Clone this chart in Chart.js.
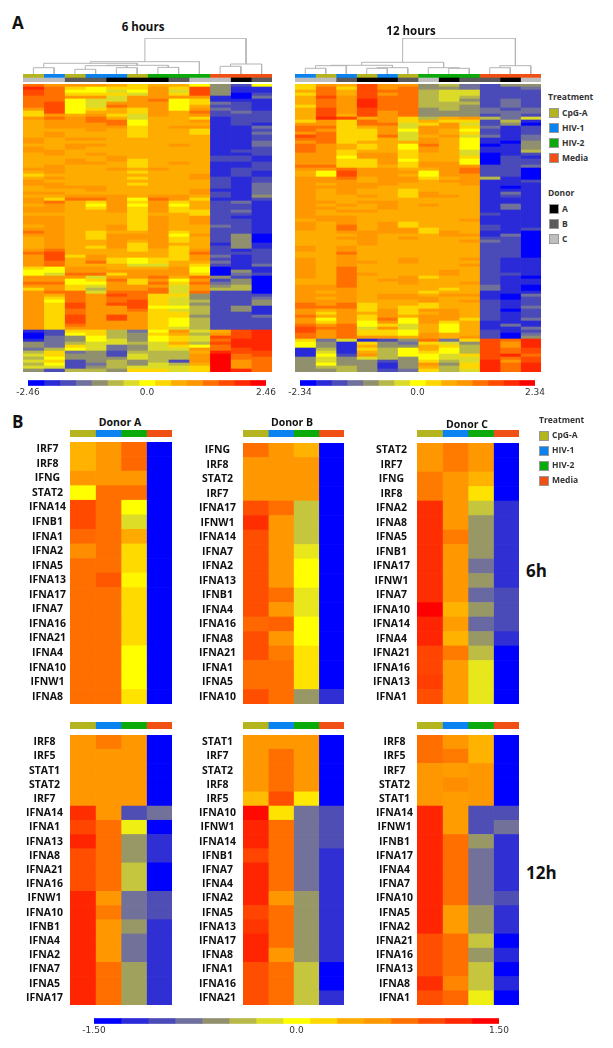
<!DOCTYPE html>
<html>
<head>
<meta charset="utf-8">
<title>Heatmaps</title>
<script src="https://cdn.jsdelivr.net/npm/chart.js@4"></script>
<style>
html, body { margin: 0; padding: 0; background: #fff; }
#page { position: relative; width: 613px; height: 1048px; overflow: hidden; font-family: "Open Sans", sans-serif; }
#page canvas { position: absolute; }
.txt { position: absolute; white-space: nowrap; color: #111; line-height: 1; }
.swatch { position: absolute; width: 8px; height: 8px; border: 1px solid #999; }
</style>
</head>
<body>
<div id="page"></div>
<script>
// colour steps of the bars, -7 (blue) to 7 (red)
const colorSteps = ['#0000ff','#2a2ad8','#4a4ab8','#70709c','#90906e','#b8b84a','#dcdc28','#ffff00','#ffd700','#ffac00','#ff9800','#ff7000','#ff4a00','#ff2800','#ff0000'];

const treatments = ['CpG-A','HIV-1','HIV-2','Media'];
const treatmentColors = ['#b4b41e','#0a82f0','#0aaa0a','#f05014'];
const donors = ['A','B','C'];
const donorColors = ['#000000','#5a5a5a','#bebebe'];

// panel A column annotations (index into treatments / donors)
const treat6h = [0,1,0,1,1,0,2,2,2,3,3,3];
const donor6h = [2,2,1,1,0,0,0,1,2,2,0,1];
const treat12h = [1,0,1,0,1,0,2,2,2,3,3,3];
const donor12h = [2,2,1,0,0,1,2,0,1,1,0,2];

// dendrograms: [childA, childB, height]; children under 12 are columns, 12+ are earlier merges
const dendro6h = [[0,1,6.3],[2,3,4.7],[4,5,6.3],[6,7,6.6],[13,14,8.3],[16,15,8.7],[12,17,10.7],[18,8,12.3],[9,10,7.7],[20,11,10],[19,21,35.7]];
const dendro12h = [[0,1,5.7],[12,2,8.3],[3,4,5.7],[14,5,6.3],[13,15,8.7],[7,8,5.7],[6,17,6.3],[16,18,11.7],[9,10,6.3],[20,11,8.3],[19,21,35.7]];

// panel A rows in colour steps
const heat6h = [
[4,3,3,3,2,1,2,2,0,-3,-5,0],[6,4,1,0,1,1,3,1,5,-3,-6,-6],[5,4,0,0,-1,0,3,-1,5,-3,-6,-6],[5,4,1,1,1,-1,3,1,5,-3,-7,-5],
[4,4,3,3,-1,3,3,3,3,-6,-7,-4],[4,4,0,-1,-1,3,4,0,1,-6,-6,-6],[4,5,0,-1,3,3,3,0,1,-4,-5,-6],[4,5,0,-1,4,3,3,0,2,-5,-5,-6],
[3,5,0,1,2,1,3,0,3,-4,-5,-6],[1,5,0,2,2,1,3,2,4,-5,-4,-5],[1,3,2,3,1,-1,3,2,3,-5,-5,-5],[3,4,3,4,2,-1,2,2,1,-6,-5,-5],
[2,3,3,4,4,0,2,2,3,-6,-5,-5],[2,3,3,3,4,0,2,2,2,-6,-5,-6],[2,3,3,3,3,1,2,3,3,-6,-6,-4],[2,2,2,3,2,1,2,2,1,-6,-6,-5],
[2,3,2,2,2,1,2,2,1,-6,-6,-4],[2,3,2,2,2,1,2,2,2,-6,-6,-5],[3,2,3,3,2,2,2,2,2,-6,-6,-5],[3,2,2,2,2,2,2,2,2,-6,-6,-4],
[2,2,3,3,2,2,2,3,2,-6,-6,-4],[3,2,3,2,2,2,2,2,2,-6,-6,-5],[3,3,2,2,2,2,2,2,2,-6,-5,-5],[2,3,2,3,2,2,2,2,2,-6,-6,-5],
[2,2,2,2,3,2,2,2,2,-5,-5,-6],[2,2,3,2,3,1,2,2,2,-5,-5,-6],[2,2,3,3,2,1,2,3,2,-6,-6,-5],[2,3,2,2,2,1,2,2,2,-6,-6,-5],
[3,3,2,2,3,2,3,2,2,-6,-5,-5],[2,3,2,2,2,1,2,2,2,-6,-5,-6],[1,2,2,2,2,2,2,2,3,-6,-5,-6],[2,3,2,2,2,1,2,2,3,-5,-6,-5],
[3,2,2,2,2,2,2,2,2,-5,-6,-5],[3,3,2,2,2,1,2,2,2,-5,-6,-4],[2,3,3,3,2,2,2,2,2,-5,-6,-4],[2,2,2,3,2,2,2,2,3,-6,-6,-4],
[3,3,2,2,2,2,2,2,3,-5,-6,-4],[2,2,3,3,3,2,3,3,2,-5,-6,-3],[3,1,4,4,3,0,4,3,1,-6,-6,-5],[3,4,2,1,3,1,3,1,2,-5,-4,-6],
[2,3,2,0,3,0,3,0,2,-5,-5,-6],[3,3,2,1,3,1,3,1,2,-5,-5,-6],[3,3,2,2,3,1,3,1,1,-5,-4,-6],[2,2,2,2,2,1,2,2,1,-5,-5,-6],
[3,3,2,2,2,1,3,2,3,-5,-6,-6],[3,3,2,2,2,1,3,2,3,-5,-5,-6],[3,3,2,2,2,1,3,2,3,-5,-5,-6],[2,3,2,2,3,1,3,2,2,-4,-5,-6],
[3,3,2,2,3,1,3,2,2,-5,-5,-6],[4,3,2,1,2,2,3,1,2,-5,-5,-6],[3,3,2,1,3,3,3,0,3,-5,-3,-7],[2,3,2,1,3,3,3,1,2,-5,-3,-7],
[2,3,2,2,3,2,3,1,2,-5,-3,-7],[2,3,2,2,3,1,3,2,2,-6,-3,-6],[2,3,2,1,3,1,3,1,2,-5,-3,-6],[3,4,2,2,2,1,2,1,3,-5,-6,-5],
[4,5,2,2,2,2,2,1,4,-5,-5,-5],[3,5,1,3,2,2,2,1,3,-4,-6,-5],[3,5,2,3,1,0,1,1,3,-5,-6,-5],[3,4,2,4,1,0,1,2,2,-4,-6,-5],
[3,4,2,2,2,-1,-1,2,1,-5,-6,-4],[1,0,3,3,2,2,2,3,0,-7,-6,-6],[0,0,3,3,3,3,3,3,0,-7,-3,-6],[0,-1,4,4,1,3,3,3,1,-7,-4,-5],
[3,3,3,-1,3,3,4,2,4,-3,-5,-7],[3,3,0,1,4,1,3,0,3,-5,-3,-7],[4,4,0,0,3,1,4,1,4,-4,-3,-7],[3,3,1,-1,3,3,3,-1,3,-3,-2,-7],
[1,3,1,-2,3,3,4,-1,3,-2,-2,-7],[3,4,4,-1,4,4,4,-1,4,-5,-5,-7],[3,2,4,3,5,4,1,1,-3,-5,-5,-5],[3,1,4,3,4,4,1,-1,-3,-5,-5,-4],
[3,0,4,3,4,5,1,-1,-2,-5,-5,-3],[3,1,5,3,5,5,1,-1,-3,-5,-5,-3],[3,1,5,3,3,5,0,0,-2,-5,-3,-6],[3,1,4,3,3,4,1,-1,-2,-5,-3,-6],
[3,1,4,3,3,3,1,1,-2,-5,-5,-6],[3,1,5,3,5,3,1,1,-3,-5,-5,-4],[3,1,5,3,5,3,1,0,-2,-5,-5,-5],[3,1,5,3,3,3,1,0,-2,-5,-5,-5],
[3,1,4,3,3,3,1,0,-2,-5,-5,-5],[3,1,3,3,3,3,1,-1,-2,-5,-5,-5],[-6,-5,1,1,-2,-4,0,3,-1,2,5,6],[-7,-5,0,1,-2,-3,1,2,-2,3,5,6],
[-7,-4,-3,0,-2,-3,0,1,-1,5,5,6],[-6,-4,-3,0,-1,-3,0,1,-1,4,6,6],[-3,-4,-2,-1,-1,-2,-1,2,-2,5,6,6],[-3,-4,1,-1,-4,-3,-1,1,0,4,6,6],
[-4,-2,0,-1,-4,-3,-1,-1,3,4,5,6],[-2,1,-4,-3,-5,-2,-2,-2,2,6,5,5],[-1,1,-3,-3,-5,-1,-2,-2,3,7,4,5],[-2,0,-3,-3,-3,-1,-2,-2,3,7,4,4],
[-1,1,-5,-3,-2,-3,-2,-5,3,7,3,4],[-2,0,-5,-4,-2,-3,-1,-2,2,7,3,4],[-1,-1,-5,-3,-2,-1,-1,-1,1,7,3,4],[-3,-5,-2,-2,-3,1,1,-1,1,7,6,4]
];
const heat12h = [
[1,3,2,5,3,3,-3,-2,-4,-5,-3,-3],[1,4,1,5,3,4,-3,-3,-4,-5,-5,-4],[2,4,2,5,4,4,-2,-1,-1,-5,-5,-5],[1,4,2,5,3,4,-2,-1,-1,-5,-5,-5],
[2,5,3,5,4,4,-2,-1,-2,-5,-5,-5],[2,4,3,6,4,4,-2,-1,-3,-5,-4,-5],[2,4,3,6,4,4,-2,-2,-2,-5,-4,-5],[1,4,3,6,4,4,-2,-2,-3,-5,-4,-5],
[2,5,3,5,4,4,-3,-2,-3,-4,-5,-4],[2,5,3,5,3,4,-3,-3,-3,-4,-4,-4],[2,5,2,5,3,4,-3,-3,-3,-5,-4,-5],[2,6,5,2,3,1,-2,2,3,-2,-4,-1],
[1,3,1,4,3,1,2,1,1,-5,-2,-6],[3,3,1,4,4,-1,1,3,-1,-5,-3,-7],[4,4,1,2,3,-1,3,3,1,-4,-6,-5],[4,3,1,1,3,0,3,2,0,-5,-6,-5],
[3,4,1,1,3,-1,3,2,1,-5,-6,-5],[5,4,1,1,4,-1,2,3,-1,-4,-6,-4],[4,4,1,1,2,-1,3,2,0,-6,-6,-4],[3,4,1,2,2,2,3,2,0,-6,-7,-3],
[4,3,2,1,2,0,4,2,0,-7,-6,-3],[4,3,2,1,2,0,3,2,0,-6,-6,-3],[4,3,1,2,2,1,3,2,-1,-6,-6,-2],[3,3,1,3,3,1,2,2,-1,-7,-6,-5],
[3,3,0,3,3,1,2,2,1,-7,-5,-6],[3,3,1,1,3,0,2,2,0,-7,-5,-5],[3,3,1,1,3,1,3,3,0,-7,-5,-5],[4,4,1,1,2,1,3,3,3,-5,-5,-4],
[3,3,4,3,3,2,2,3,4,-5,-5,-7],[2,0,5,3,3,3,0,3,4,-5,-5,-7],[2,0,5,3,3,2,0,3,3,-5,-5,-7],[3,3,4,2,3,3,1,2,3,-2,-6,-7],
[3,3,3,2,3,3,2,3,3,-6,-6,-5],[3,2,3,3,3,2,2,2,3,-6,-6,-6],[3,3,3,3,2,2,2,2,2,-6,-7,-6],[3,2,3,2,2,1,2,2,2,-6,-6,-6],
[3,2,3,2,2,1,3,2,2,-6,-4,-6],[3,2,2,3,2,1,3,3,2,-6,-5,-6],[3,2,2,2,2,2,2,2,2,-6,-6,-6],[3,3,2,3,3,2,2,2,2,-6,-6,-6],
[3,2,3,2,3,2,3,2,2,-6,-4,-6],[3,3,2,2,3,2,2,2,2,-6,-4,-6],[3,2,3,3,2,2,2,2,2,-6,-6,-6],[3,2,2,2,2,2,2,2,2,-5,-6,-6],
[3,3,3,2,2,2,2,2,2,-6,-6,-6],[2,3,3,2,2,2,2,2,3,-6,-6,-6],[3,2,3,2,3,1,2,2,2,-6,-6,-6],[3,2,4,2,3,1,2,2,2,-5,-6,-6],
[3,2,4,2,3,3,1,2,2,-5,-6,-5],[2,2,3,3,3,3,1,3,2,-6,-6,-7],[2,2,2,3,2,2,2,3,3,-6,-4,-7],[2,2,3,3,2,3,2,2,2,-5,-5,-7],
[2,2,2,3,2,2,2,2,3,-4,-5,-7],[2,2,2,3,2,2,2,2,2,-5,-5,-7],[3,2,3,2,2,2,2,2,2,-5,-5,-7],[3,2,3,2,2,2,2,2,2,-5,-5,-7],
[2,2,4,2,2,2,2,2,2,-5,-5,-7],[2,2,3,2,2,2,2,2,2,-5,-5,-7],[3,2,3,2,2,3,2,2,3,-5,-6,-6],[3,2,3,3,2,3,2,2,2,-5,-6,-6],
[3,2,3,2,2,2,2,2,3,-5,-6,-6],[3,2,4,2,2,2,2,2,2,-5,-6,-6],[3,2,4,2,2,2,2,3,2,-5,-6,-6],[3,2,4,3,2,2,2,3,2,-5,-5,-6],
[3,2,4,2,2,3,1,2,2,-5,-6,-7],[2,2,4,2,3,3,2,2,2,-5,-6,-6],[2,2,4,2,2,3,2,2,3,-5,-6,-6],[3,3,4,2,2,2,2,2,2,-4,-6,-7],
[3,3,3,2,2,2,2,1,2,-4,-6,-7],[3,2,3,2,2,2,1,2,2,-6,-6,-6],[3,3,3,2,3,3,2,3,3,-6,-7,-4],[3,2,3,2,3,3,3,2,2,-6,-7,-5],
[3,3,3,2,2,2,3,2,3,-5,-6,-5],[4,3,4,1,2,2,1,2,2,-5,-6,-5],[4,4,4,1,2,1,1,2,2,-5,-6,-4],[3,2,3,1,3,1,3,3,2,-5,-7,-5],
[3,1,3,2,3,1,2,3,2,-5,-6,-5],[4,2,3,1,3,2,3,3,2,-5,-6,-5],[3,0,3,1,4,0,3,3,1,-5,-6,-4],[3,1,3,0,3,0,3,1,2,-6,-6,-6],
[4,3,4,0,1,-1,2,0,2,-6,-4,-6],[5,4,4,-1,3,-1,2,0,2,-6,-6,-4],[5,3,4,1,1,0,2,0,2,-5,-6,-5],[4,3,4,1,1,0,3,2,2,-5,-7,-4],
[4,3,4,3,3,2,3,2,3,-5,-7,-3],[1,-4,-1,-6,-5,-3,4,-4,1,5,4,6],[0,-3,-6,1,-3,-4,1,-1,-3,5,3,6],[0,-3,-6,2,-3,-3,2,1,-2,5,3,6],
[-6,-2,-6,1,-2,0,2,0,-2,5,4,5],[-6,-1,-6,2,-2,0,1,0,-2,5,4,5],[-6,0,-5,3,-2,0,0,-1,1,5,6,4],[-3,-1,-3,-1,-2,-3,0,-1,-1,5,4,5],
[-3,-1,-3,-3,-5,-3,1,-2,-1,6,3,5],[-3,0,-3,-3,-6,-3,3,-3,1,6,4,6],[-3,-2,-2,-3,-6,-3,2,-2,1,6,4,6],[-3,-3,-2,-3,-5,-4,1,-2,-1,6,4,6]
];

// panel B genes and values (CpG-A, HIV-1, HIV-2, Media)
const genesA6 = ['IRF7','IRF8','IFNG','STAT2','IFNA14','IFNB1','IFNA1','IFNA2','IFNA5','IFNA13','IFNA17','IFNA7','IFNA16','IFNA21','IFNA4','IFNA10','IFNW1','IFNA8'];
const valuesA6 = [[.4,.64,.9,-1.5],[.4,.64,.9,-1.5],[.65,.65,.65,-1.5],[0,.86,.86,-1.5],[1.07,.86,0,-1.5],[1.07,.86,-.21,-1.5],[.9,.86,.45,-1.5],[.7,.86,.2,-1.5],[.86,.86,.2,-1.5],[.86,1,.05,-1.5],[.86,.86,.2,-1.5],[.86,.86,.2,-1.5],[.86,.86,.2,-1.5],[.86,.86,.2,-1.5],[.86,.86,0,-1.5],[.86,.86,0,-1.5],[.86,.86,0,-1.5],[.86,.86,.15,-1.5]];
const genesB6 = ['IFNG','IRF8','STAT2','IRF7','IFNA17','IFNW1','IFNA14','IFNA7','IFNA2','IFNA13','IFNB1','IFNA4','IFNA16','IFNA8','IFNA21','IFNA1','IFNA5','IFNA10'];
const valuesB6 = [[.86,.64,.4,-1.5],[.64,.64,.64,-1.5],[.64,.64,.64,-1.5],[.64,.64,.64,-1.5],[1.05,.86,-.35,-1.5],[1.25,.64,-.35,-1.5],[1.05,.64,-.35,-1.5],[1.05,.64,-.15,-1.5],[1.05,.64,0,-1.5],[1.05,.64,0,-1.5],[1.05,.86,-.15,-1.5],[1.05,.64,-.15,-1.5],[.9,.95,0,-1.5],[1.05,.64,0,-1.5],[1.05,.8,.15,-1.5],[.86,.86,.15,-1.5],[.86,.86,.15,-1.5],[1.05,.86,-.6,-1.25]];
const genesC6 = ['STAT2','IRF7','IFNG','IRF8','IFNA2','IFNA8','IFNA5','IFNB1','IFNA17','IFNW1','IFNA7','IFNA10','IFNA14','IFNA4','IFNA21','IFNA16','IFNA13','IFNA1'];
const valuesC6 = [[.64,.8,.64,-1.5],[.64,.8,.64,-1.5],[.8,.64,.4,-1.5],[.8,.64,.15,-1.5],[1.25,.64,-.35,-1.25],[1.25,.64,-.6,-1.25],[1.25,.8,-.6,-1.25],[1.25,.64,-.6,-1.25],[1.25,.64,-.85,-1.25],[1.25,.64,-.6,-1.25],[1.25,.64,-.9,-1.07],[1.5,.4,-.6,-1.07],[1.3,.6,-.9,-1.07],[1.3,.4,-.6,-1.25],[1.1,.8,-.4,-1.5],[1.1,.6,-.15,-1.5],[1.15,.6,-.15,-1.5],[1.05,.6,-.15,-1.5]];
const genesA12 = ['IRF8','IRF5','STAT1','STAT2','IRF7','IFNA14','IFNA1','IFNA13','IFNA8','IFNA21','IFNA16','IFNW1','IFNA10','IFNB1','IFNA4','IFNA2','IFNA7','IFNA5','IFNA17'];
const valuesA12 = [[.64,.8,.64,-1.5],[.64,.64,.64,-1.5],[.64,.64,.64,-1.5],[.64,.64,.64,-1.5],[.64,.64,.64,-1.5],[1.25,.64,-1.05,-.85],[1.1,.86,-.1,-1.5],[1.3,.86,-.6,-1.25],[1.05,.86,-.6,-1.25],[1.05,.86,-.35,-1.5],[1.05,.86,-.35,-1.5],[1.3,.64,-.85,-1.05],[1.3,.8,-.85,-1.05],[1.3,.64,-.6,-1.25],[1.3,.64,-.85,-1.25],[1.3,.64,-.85,-1.25],[1.3,.86,-.55,-1.25],[1.3,.86,-.55,-1.25],[1.3,.86,-.55,-1.25]];
const genesB12 = ['STAT1','IRF7','STAT2','IRF8','IRF5','IFNA10','IFNW1','IFNA14','IFNB1','IFNA7','IFNA4','IFNA2','IFNA5','IFNA13','IFNA17','IFNA8','IFNA1','IFNA16','IFNA21'];
const valuesB12 = [[.64,.64,.64,-1.5],[.64,.86,.64,-1.5],[.64,.86,.64,-1.5],[.64,.86,.64,-1.5],[.35,1.05,.12,-1.5],[1.45,.15,-.85,-1.05],[1.3,.86,-.85,-1.05],[1.3,.86,-.85,-1.05],[1.1,.86,-.85,-1.25],[1.3,.86,-.85,-1.25],[1.3,.86,-.85,-1.25],[1.3,.64,-.6,-1.25],[1.1,.86,-.6,-1.25],[1.2,.86,-.6,-1.25],[1.3,.86,-.6,-1.25],[1.3,.64,-.6,-1.25],[1.05,.86,-.35,-1.5],[1.05,.86,-.35,-1.5],[1.05,.86,-.35,-1.25]];
const genesC12 = ['IRF8','IRF5','IRF7','STAT2','STAT1','IFNA14','IFNW1','IFNB1','IFNA17','IFNA4','IFNA7','IFNA10','IFNA5','IFNA2','IFNA21','IFNA16','IFNA13','IFNA8','IFNA1'];
const valuesC12 = [[.86,.64,.4,-1.5],[.86,.8,.4,-1.5],[.64,.6,.64,-1.5],[.64,.7,.64,-1.5],[.64,.6,.64,-1.5],[1.3,.6,-1.05,-1.05],[1.3,.6,-1.05,-.85],[1.3,.86,-.6,-1.25],[1.3,.86,-.85,-1.25],[1.3,.86,-.85,-1.25],[1.3,.86,-.85,-1.25],[1.3,.86,-.85,-1.05],[1.3,.6,-.6,-1.25],[1.3,.6,-.6,-1.25],[1.05,.86,-.35,-1.5],[1.05,.86,-.6,-1.3],[1.05,.86,-.35,-1.5],[1.25,.75,-.35,-1.3],[1.05,.9,-.1,-1.5]];

const page = document.getElementById('page');
const geneFont = { family: '"Open Sans", sans-serif', size: 10.5, weight: '700' };

function addCanvas(left, top, width, height) {
    const c = document.createElement('canvas');
    c.width = width;
    c.height = height;
    c.style.left = left + 'px';
    c.style.top = top + 'px';
    c.style.width = width + 'px';
    c.style.height = height + 'px';
    page.appendChild(c);
    return c.getContext('2d');
}

function addText(text, x, y, size, weight, anchor, color) {
    const d = document.createElement('div');
    d.className = 'txt';
    d.textContent = text;
    d.style.left = x + 'px';
    d.style.top = y + 'px';
    d.style.fontSize = size + 'px';
    d.style.fontWeight = weight;
    d.style.transform = anchor === 'center' ? 'translate(-50%,-50%)' : 'translateY(-50%)';
    if (color) d.style.color = color;
    page.appendChild(d);
}

function addSwatch(x, y, color) {
    const d = document.createElement('div');
    d.className = 'swatch';
    d.style.left = x + 'px';
    d.style.top = y + 'px';
    d.style.background = color;
    page.appendChild(d);
}

// step -7..7 to colour, blended between neighbours for in-between values
function stepColor(step) {
    const s = Math.max(-7, Math.min(7, step)) + 7;
    const i = Math.min(13, Math.floor(s));
    const f = s - i;
    const a = parseInt(colorSteps[i].slice(1), 16);
    const b = parseInt(colorSteps[i + 1].slice(1), 16);
    const mix = shift => Math.round(((a >> shift) & 255) * (1 - f) + ((b >> shift) & 255) * f);
    return `rgb(${mix(16)},${mix(8)},${mix(0)})`;
}

function noPad(scale) {
    scale.paddingLeft = 0;
    scale.paddingRight = 0;
    scale.paddingTop = 0;
    scale.paddingBottom = 0;
}

// grid of cells as stacked horizontal bars: one dataset per column, one category per row
function cellChart(ctx, rowLabels, cellColors, tickPad, labelW) {
    const nCols = cellColors[0].length;
    const datasets = [];
    for (let c = 0; c < nCols; c++) {
        datasets.push({
            data: rowLabels.map(() => 1),
            backgroundColor: cellColors.map(row => row[c]),
            borderWidth: 0,
            barPercentage: 1,
            categoryPercentage: 1
        });
    }
    return new Chart(ctx, {
        type: 'bar',
        data: { labels: rowLabels, datasets },
        options: {
            indexAxis: 'y',
            responsive: false,
            animation: false,
            layout: { padding: 0 },
            plugins: { legend: { display: false }, tooltip: { enabled: false } },
            scales: {
                x: { display: false, stacked: true, min: 0, max: nCols },
                y: {
                    display: !!labelW,
                    stacked: true,
                    grid: { display: false, drawTicks: false },
                    border: { display: false },
                    ticks: { autoSkip: false, font: geneFont, color: '#111', padding: tickPad, crossAlign: 'center' },
                    afterFit: s => { if (labelW) s.width = labelW; noPad(s); }
                }
            }
        }
    });
}

function dendroChart(ctx, merges, nLeaves, yMax) {
    const xs = [];
    const hs = [];
    for (let i = 0; i < nLeaves; i++) { xs.push(i + 0.5); hs.push(0); }
    const datasets = merges.map(([a, b, h]) => {
        const line = {
            data: [{ x: xs[a], y: hs[a] }, { x: xs[a], y: h }, { x: xs[b], y: h }, { x: xs[b], y: hs[b] }],
            showLine: true,
            borderColor: '#b4b4b4',
            borderWidth: 1,
            pointRadius: 0,
            tension: 0
        };
        xs.push((xs[a] + xs[b]) / 2);
        hs.push(h);
        return line;
    });
    return new Chart(ctx, {
        type: 'scatter',
        data: { datasets },
        options: {
            responsive: false,
            animation: false,
            layout: { padding: 0 },
            plugins: { legend: { display: false }, tooltip: { enabled: false } },
            scales: {
                x: { display: false, min: 0, max: nLeaves },
                y: { display: false, min: 0, max: yMax }
            }
        }
    });
}

// colour key: floating bars on a value axis, ticks only at the ends and zero
function keyChart(ctx, maxVal, pad, barH, fontSize) {
    const bandW = 2 * maxVal / colorSteps.length;
    const datasets = colorSteps.map((col, i) => ({
        data: [[-maxVal + i * bandW, -maxVal + (i + 1) * bandW]],
        backgroundColor: col,
        borderWidth: 0,
        barThickness: barH,
        grouped: false
    }));
    return new Chart(ctx, {
        type: 'bar',
        data: { labels: ['key'], datasets },
        options: {
            indexAxis: 'y',
            responsive: false,
            animation: false,
            layout: { padding: { left: pad, right: pad } },
            plugins: { legend: { display: false }, tooltip: { enabled: false } },
            scales: {
                y: { display: false },
                x: {
                    min: -maxVal,
                    max: maxVal,
                    grid: { display: false, drawTicks: false },
                    border: { display: false },
                    afterBuildTicks: s => { s.ticks = [{ value: -maxVal }, { value: 0 }, { value: maxVal }]; },
                    afterFit: noPad,
                    ticks: {
                        maxRotation: 0,
                        autoSkip: false,
                        padding: 0,
                        color: '#333',
                        font: { family: '"DejaVu Sans", sans-serif', size: fontSize },
                        callback: v => (v === 0 ? '0.0' : v.toFixed(2))
                    }
                }
            }
        }
    });
}

function panelA(x, w, treat, donor, merges, heat, maxVal) {
    dendroChart(addCanvas(x, 38, w, 36), merges, 12, 36);
    const strip = [treat.map(t => treatmentColors[t]), donor.map(d => donorColors[d])];
    cellChart(addCanvas(x, 74, w, 8), ['Treatment', 'Donor'], strip);
    cellChart(addCanvas(x, 84, w, 288), heat.map((r, i) => 'row' + i), heat.map(r => r.map(stepColor)));
    keyChart(addCanvas(x + 5 - 20, 379, w - 10 + 40 - 1, 16), maxVal, 20, 5, 9);
}

function panelB(plotX, plotW, top, h, stripTop, genes, values, labelW, tickPad) {
    cellChart(addCanvas(plotX, stripTop, plotW, 7), ['Treatment'], [treatmentColors]);
    const colors = values.map(r => r.map(v => stepColor(v / 1.5 * 7)));
    cellChart(addCanvas(plotX - labelW, top, plotW + labelW, h), genes, colors, tickPad, labelW);
}

panelA(23, 249, treat6h, donor6h, dendro6h, heat6h, 2.46);
panelA(295, 246, treat12h, donor12h, dendro12h, heat12h, 2.34);

panelB(70, 102, 442, 262, 430, genesA6, valuesA6, 48, 4);
panelB(243, 101, 443, 261, 430, genesB6, valuesB6, 50, 7);
panelB(417, 102, 443, 261, 430, genesC6, valuesC6, 50, 7);
panelB(70, 102, 735, 270, 722, genesA12, valuesA12, 50, 7);
panelB(243, 101, 735, 270, 722, genesB12, valuesB12, 50, 7);
panelB(417, 102, 735, 270, 722, genesC12, valuesC12, 48, 4);

keyChart(addCanvas(94 - 20, 1017, 405 + 40, 16), 1.5, 20, 5, 9);

addText('A', 12, 22, 17, 700);
addText('B', 12, 421, 17, 700);
addText('6 hours', 143, 26.5, 11.5, 700, 'center');
addText('12 hours', 411, 31, 11.5, 700, 'center');
addText('Donor A', 120, 422, 10.5, 700, 'center');
addText('Donor B', 292, 422, 10.5, 700, 'center');
addText('Donor C', 467, 424, 10.5, 700, 'center');
addText('6h', 526, 570, 17, 700);
addText('12h', 526, 872, 17, 700);

// legends
addText('Treatment', 548, 97, 8.5, 700, null, '#333');
treatments.forEach((t, i) => {
    addSwatch(549, 108 + 15 * i, treatmentColors[i]);
    addText(t, 562, 113 + 15 * i, 8.5, 700, null, '#333');
});
addText('Donor', 548, 193, 8.5, 700, null, '#333');
donors.forEach((d, i) => {
    addSwatch(549, 204 + 15 * i, donorColors[i]);
    addText(d, 562, 209 + 15 * i, 8.5, 700, null, '#333');
});
addText('Treatment', 539, 420, 8.5, 700, null, '#333');
treatments.forEach((t, i) => {
    addSwatch(539, 431 + 15 * i, treatmentColors[i]);
    addText(t, 552, 435 + 15 * i, 8.5, 700, null, '#333');
});
</script>
</body>
</html>
